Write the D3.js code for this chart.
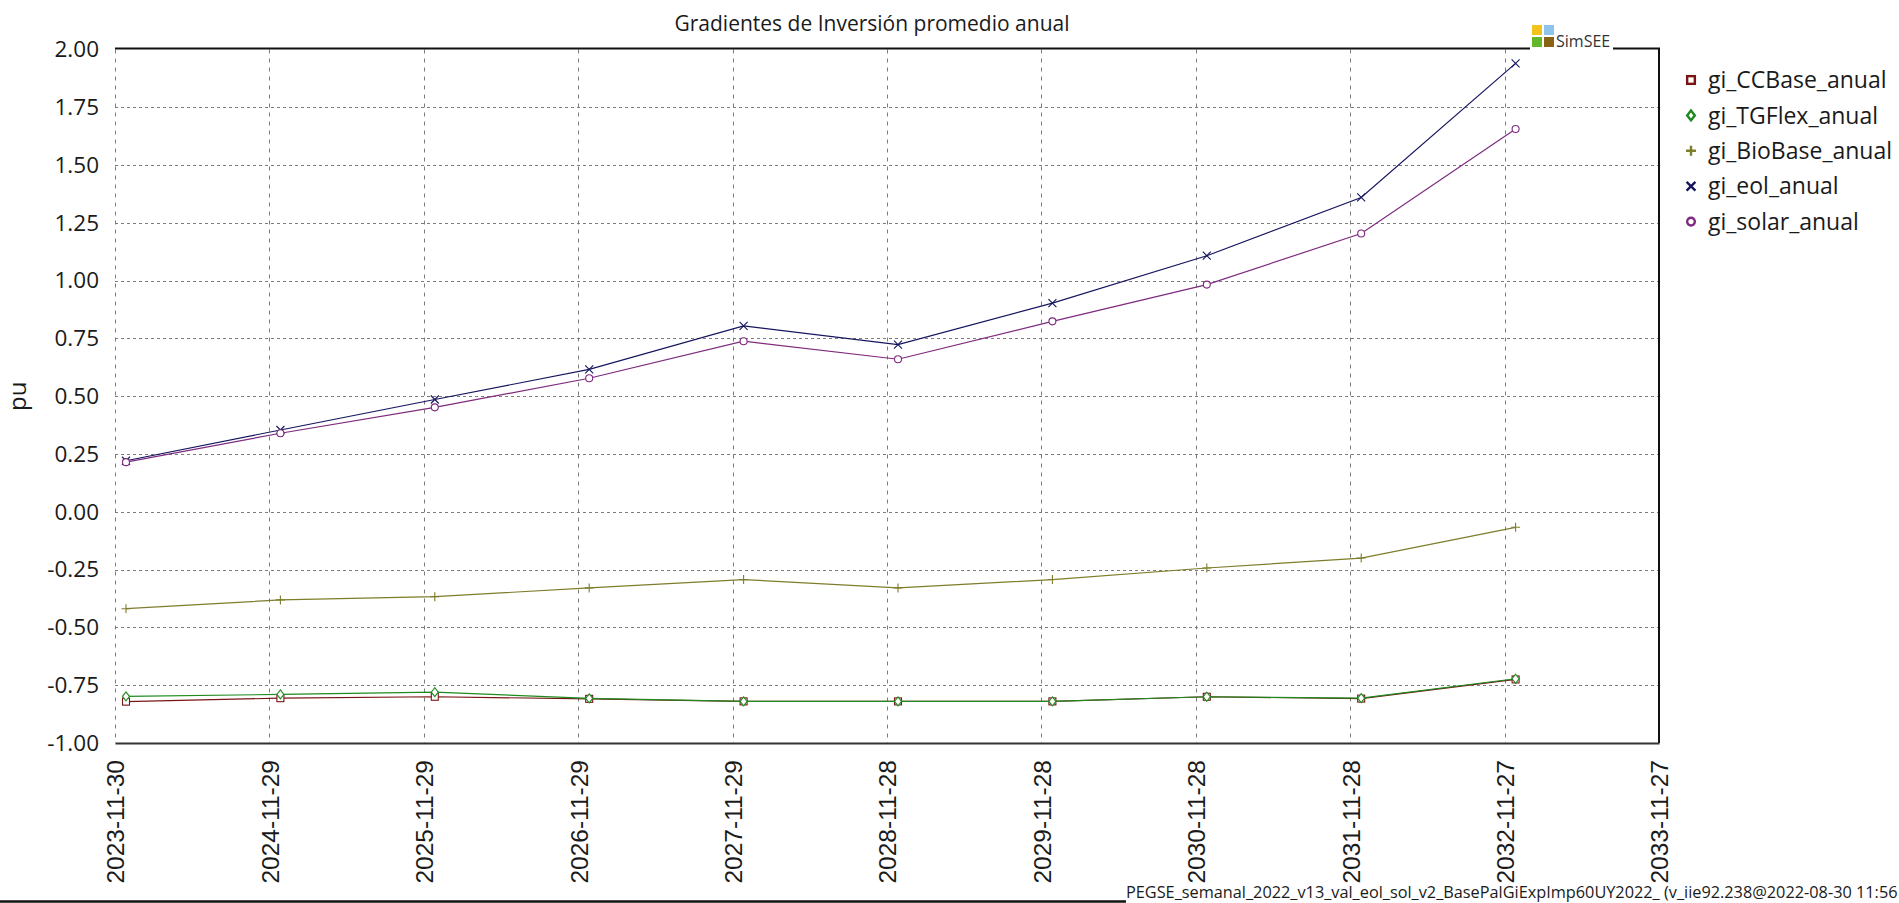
<!DOCTYPE html>
<html>
<head>
<meta charset="utf-8">
<script src="https://cdn.jsdelivr.net/npm/d3@7"></script>
<style>
  html, body { margin: 0; padding: 0; background: #ffffff; }
  svg { display: block; }
</style>
</head>
<body>
<svg id="grafico" width="1899" height="903"></svg>
<script>
// Fechas del eje (una por año) y fechas de cada valor anual
const fechasEje = ["2023-11-30", "2024-11-29", "2025-11-29", "2026-11-29", "2027-11-29",
                   "2028-11-28", "2029-11-28", "2030-11-28", "2031-11-28", "2032-11-27", "2033-11-27"];
const fechasDatos = ["2023-12-26", "2024-12-25", "2025-12-25", "2026-12-25", "2027-12-25",
                     "2028-12-24", "2029-12-24", "2030-12-24", "2031-12-24", "2032-12-23"];

// Gradientes de inversión promedio anual [pu]
const giCCBase  = [-0.821, -0.806, -0.800, -0.809, -0.820, -0.820, -0.820, -0.800, -0.808, -0.725];
const giTGFlex  = [-0.798, -0.790, -0.780, -0.807, -0.820, -0.820, -0.820, -0.800, -0.806, -0.722];
const giBioBase = [-0.419, -0.381, -0.367, -0.329, -0.293, -0.329, -0.293, -0.243, -0.200, -0.067];
const giEol     = [0.221, 0.354, 0.486, 0.616, 0.804, 0.723, 0.903, 1.108, 1.360, 1.940];
const giSolar   = [0.215, 0.340, 0.452, 0.578, 0.738, 0.660, 0.824, 0.983, 1.204, 1.656];

const nombresSeries = ["gi_CCBase_anual", "gi_TGFlex_anual", "gi_BioBase_anual", "gi_eol_anual", "gi_solar_anual"];
const etiquetasY = ["-1.00", "-0.75", "-0.50", "-0.25", "0.00", "0.25", "0.50", "0.75", "1.00", "1.25", "1.50", "1.75", "2.00"];

const titulo = "Gradientes de Inversión promedio anual";
const tituloEjeY = "pu";
const pie = "PEGSE_semanal_2022_v13_val_eol_sol_v2_BasePalGiExpImp60UY2022_ (v_iie92.238@2022-08-30 11:56";

// Estilo de cada serie
const colores = ["#7a1414", "#1f8a1f", "#7d7d2a", "#15155e", "#7e2a7e"];
const marcas = ["cuadrado", "rombo", "mas", "cruz", "circulo"];

const parse = d3.timeParse("%Y-%m-%d");
const series = nombresSeries.map((nombre, i) => ({
  nombre,
  color: colores[i],
  marca: marcas[i],
  puntos: [giCCBase, giTGFlex, giBioBase, giEol, giSolar][i].map((v, j) => ({ fecha: parse(fechasDatos[j]), v }))
}));

const svg = d3.select("#grafico");
const izq = 115, der = 1659, arriba = 49.5, abajo = 743;

const x = d3.scaleTime()
  .domain([parse(fechasEje[0]), parse(fechasEje[fechasEje.length - 1])])
  .range([izq, der]);
const y = d3.scaleLinear().domain([-1, 2]).range([abajo, arriba]);

const fuente = "'Open Sans', 'Noto Sans', sans-serif";

// Título
svg.append("text")
  .attr("x", 872).attr("y", 31)
  .attr("text-anchor", "middle")
  .attr("font-family", fuente).attr("font-size", 21)
  .attr("fill", "#1a1a1a")
  .text(titulo);

// Rejilla horizontal
const valoresY = etiquetasY.map(Number);
svg.append("g")
  .selectAll("line")
  .data(valoresY.filter(v => v > -1 && v < 2))
  .join("line")
  .attr("x1", izq).attr("x2", der)
  .attr("y1", d => Math.round(y(d)) + 0.5).attr("y2", d => Math.round(y(d)) + 0.5)
  .attr("stroke", "#7c7c7c").attr("stroke-width", 1)
  .attr("stroke-dasharray", "3,3");

// Rejilla vertical
const fechasTicks = fechasEje.map(parse);
svg.append("g")
  .selectAll("line")
  .data(fechasTicks.slice(0, -1))
  .join("line")
  .attr("x1", d => Math.round(x(d)) + 0.5).attr("x2", d => Math.round(x(d)) + 0.5)
  .attr("y1", arriba).attr("y2", abajo)
  .attr("stroke", "#7c7c7c").attr("stroke-width", 1)
  .attr("stroke-dasharray", "4,5");

// Marco superior y derecho
svg.append("path")
  .attr("d", `M${izq},${arriba - 1}H${der}V${abajo}`)
  .attr("fill", "none").attr("stroke", "#111").attr("stroke-width", 2);

// Eje Y
const ejeY = svg.append("g")
  .attr("transform", `translate(${izq},0)`)
  .call(d3.axisLeft(y).tickValues(valoresY).tickSize(0).tickPadding(16)
    .tickFormat((d, i) => etiquetasY[i]));
ejeY.select(".domain").remove();
ejeY.selectAll("text")
  .attr("font-family", fuente).attr("font-size", 22.5).attr("fill", "#1a1a1a");

// Eje X
const ejeX = svg.append("g")
  .attr("transform", `translate(0,${abajo})`)
  .call(d3.axisBottom(x).tickValues(fechasTicks).tickSize(0)
    .tickFormat((d, i) => fechasEje[i]));
ejeX.select(".domain").attr("stroke", "#333").attr("stroke-width", 2);
ejeX.selectAll("text")
  .attr("font-family", "'Liberation Sans', Arial, sans-serif").attr("font-size", 24.5)
  .attr("fill", "#1a1a1a")
  .attr("text-anchor", "end")
  .attr("transform", "rotate(-90)")
  .attr("x", -17).attr("y", 0).attr("dy", "0.36em");

// Título del eje Y
svg.append("text")
  .attr("transform", `translate(26,${(arriba + abajo) / 2}) rotate(-90)`)
  .attr("text-anchor", "middle")
  .attr("font-family", fuente).attr("font-size", 24).attr("fill", "#1a1a1a")
  .text(tituloEjeY);

// Marcadores
function dibujarMarca(g, tipo, color, grueso) {
  const w = grueso ? 2.4 : 1.1;
  const k = grueso ? 1.1 : 1;
  if (tipo === "cuadrado") {
    g.append("rect").attr("x", -3.5 * k).attr("y", -3.5 * k).attr("width", 7 * k).attr("height", 7 * k)
      .attr("fill", "#fff").attr("stroke", color).attr("stroke-width", w);
  } else if (tipo === "rombo") {
    g.append("path").attr("d", `M0,${-4.5 * k}L${3.5 * k},0L0,${4.5 * k}L${-3.5 * k},0Z`)
      .attr("fill", "#fff").attr("stroke", color).attr("stroke-width", w);
  } else if (tipo === "mas") {
    g.append("path").attr("d", `M${-4.5 * k},0H${4.5 * k}M0,${-4.5 * k}V${4.5 * k}`)
      .attr("stroke", color).attr("stroke-width", w);
  } else if (tipo === "cruz") {
    g.append("path").attr("d", `M${-4 * k},${-4 * k}L${4 * k},${4 * k}M${-4 * k},${4 * k}L${4 * k},${-4 * k}`)
      .attr("stroke", color).attr("stroke-width", w);
  } else {
    g.append("circle").attr("r", 3.5 * k)
      .attr("fill", "#fff").attr("stroke", color).attr("stroke-width", w);
  }
}

// Líneas de cada serie
const linea = d3.line().x(d => x(d.fecha)).y(d => y(d.v));
series.forEach(s => {
  const g = svg.append("g");
  g.append("path")
    .attr("d", linea(s.puntos))
    .attr("fill", "none").attr("stroke", s.color).attr("stroke-width", 1.2);
  g.selectAll("g.marca")
    .data(s.puntos)
    .join("g").attr("class", "marca")
    .attr("transform", d => `translate(${x(d.fecha)},${y(d.v)})`)
    .each(function () { dibujarMarca(d3.select(this), s.marca, s.color, false); });
});

// Logo SimSEE sobre el marco
const logo = svg.append("g");
logo.append("rect").attr("x", 1530).attr("y", 22).attr("width", 83).attr("height", 28).attr("fill", "#fff");
const cuadros = [["#f2c31c", 0, 0], ["#8cc4ee", 12, 0], ["#63b82a", 0, 12], ["#8a6214", 12, 12]];
logo.selectAll("rect.c").data(cuadros).join("rect").attr("class", "c")
  .attr("x", d => 1532 + d[1]).attr("y", d => 25 + d[2])
  .attr("width", 10).attr("height", 10).attr("fill", d => d[0]);
logo.append("text").attr("x", 1556).attr("y", 47)
  .attr("font-family", fuente).attr("font-size", 16).attr("fill", "#333")
  .text("SimSEE");

// Leyenda
const leyenda = svg.append("g");
series.forEach((s, i) => {
  const yy = 80 + i * 35.4;
  const m = leyenda.append("g").attr("transform", `translate(1691,${yy})`);
  dibujarMarca(m, s.marca, s.color, true);
  leyenda.append("text")
    .attr("x", 1708).attr("y", yy).attr("dy", "0.36em")
    .attr("font-family", fuente).attr("font-size", 23).attr("fill", "#1a1a1a")
    .text(s.nombre);
});

// Pie con el nombre de la corrida
svg.append("rect").attr("x", 1124).attr("y", 885).attr("width", 775).attr("height", 18).attr("fill", "#fff");
svg.append("text")
  .attr("x", 1126).attr("y", 898)
  .attr("font-family", fuente).attr("font-size", 16.3).attr("fill", "#1a1a1a")
  .text(pie);
svg.append("line")
  .attr("x1", 0).attr("x2", 1126).attr("y1", 901.5).attr("y2", 901.5)
  .attr("stroke", "#111").attr("stroke-width", 2.5);
</script>
</body>
</html>
